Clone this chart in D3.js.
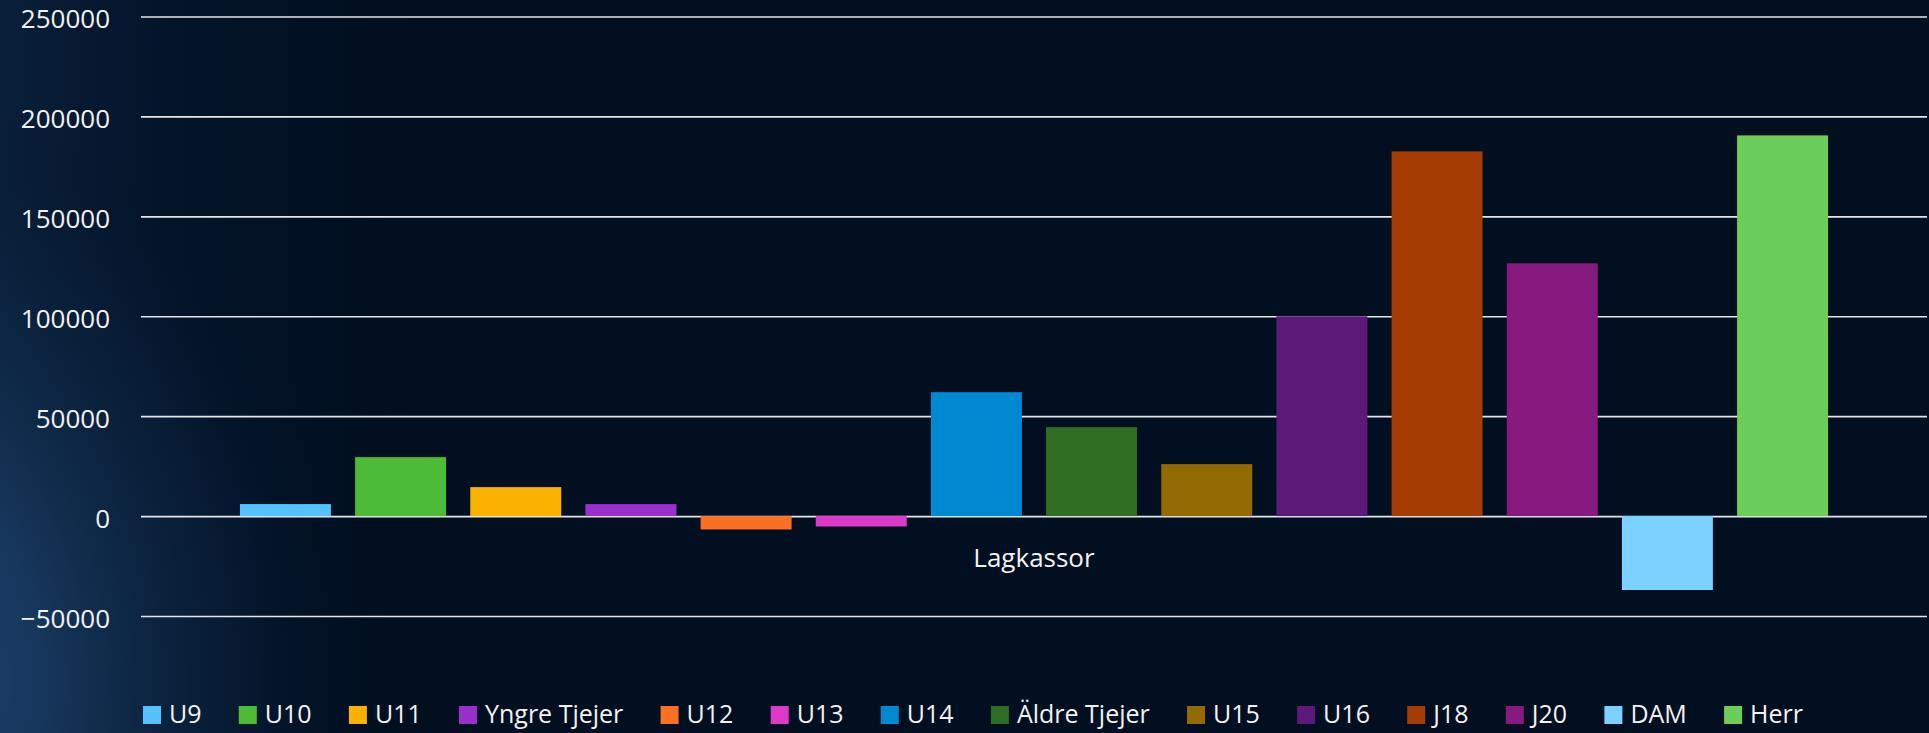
<!DOCTYPE html>
<html>
<head>
<meta charset="utf-8">
<script src="https://cdn.jsdelivr.net/npm/d3@7"></script>
<style>
    html, body { margin: 0; padding: 0; background: #010f21; overflow: hidden; }
    #chart { width: 1929px; height: 733px; }
    text { font-family: "Open Sans", "DejaVu Sans", sans-serif; fill: #f2f2f2; }
</style>
</head>
<body>
<div id="chart"></div>
<script>
// data
const category = ['Lagkassor'];
const teams = ['U9', 'U10', 'U11', 'Yngre Tjejer', 'U12', 'U13', 'U14', 'Äldre Tjejer',
    'U15', 'U16', 'J18', 'J20', 'DAM', 'Herr'];
const balance = [6000, 29500, 14500, 6000, -6700, -5200, 62000, 44500,
    26000, 100000, 182500, 126500, -37000, 190500];
const yTicks = [-50000, 0, 50000, 100000, 150000, 200000, 250000];
const colors = ['#55c2ff', '#4cbb38', '#f9b200', '#9a2fcd', '#f97025', '#de38c8', '#0088d1', '#2f6e22',
    '#946a02', '#5c1a78', '#a43c04', '#871a7e', '#7bd1ff', '#6bce5a'];

(function () {
    const width = 1929, height = 733;
    const padding = { top: 16.5, right: 2, bottom: 117, left: 141 };

    const svg = d3.select('#chart').append('svg').attr('width', width).attr('height', height);

    // background, bluish glow on the left side
    const defs = svg.append('defs');
    const glow = defs.append('radialGradient').attr('id', 'glow')
        .attr('gradientUnits', 'userSpaceOnUse')
        .attr('cx', -180).attr('cy', 680).attr('r', 560)
        .attr('gradientTransform', 'translate(-180,680) scale(1,1.1) translate(180,-680)');
    glow.append('stop').attr('offset', '0%').attr('stop-color', '#2b5688').attr('stop-opacity', 0.95);
    glow.append('stop').attr('offset', '40%').attr('stop-color', '#1d416b').attr('stop-opacity', 0.7);
    glow.append('stop').attr('offset', '75%').attr('stop-color', '#0d2746').attr('stop-opacity', 0.35);
    glow.append('stop').attr('offset', '100%').attr('stop-color', '#010f21').attr('stop-opacity', 0);
    const side = defs.append('linearGradient').attr('id', 'side')
        .attr('x1', 0).attr('x2', 1).attr('y1', 0).attr('y2', 0);
    side.append('stop').attr('offset', '0%').attr('stop-color', '#0d2644').attr('stop-opacity', 0.7);
    side.append('stop').attr('offset', '100%').attr('stop-color', '#010f21').attr('stop-opacity', 0);

    svg.append('rect').attr('width', width).attr('height', height).attr('fill', '#010f21');
    svg.append('rect').attr('width', 420).attr('height', height).attr('fill', 'url(#side)');
    svg.append('rect').attr('width', width).attr('height', height).attr('fill', 'url(#glow)');

    const yScale = d3.scaleLinear().domain([-50000, 250000]).range([616, padding.top]);
    const x0 = d3.scaleBand().domain(category).range([padding.left, width - padding.right])
        .paddingInner(0).paddingOuter(0.0623);
    const x1 = d3.scaleBand().domain(teams).range([0, x0.bandwidth()])
        .paddingInner(0.21).paddingOuter(0);

    // gridlines + y labels
    const yAxis = svg.append('g').attr('transform', `translate(${padding.left},0)`)
        .call(d3.axisLeft(yScale).tickValues(yTicks).tickFormat(d3.format('d'))
            .tickSize(-(width - padding.right - padding.left)).tickPadding(31));
    yAxis.select('.domain').remove();
    yAxis.selectAll('line').attr('stroke', '#e6e6e6').attr('stroke-width', 1.6);
    yAxis.selectAll('text').attr('font-size', 26).attr('dy', 11).style('fill', '#f2f2f2')
        .attr('font-family', '"Open Sans", sans-serif');

    // bars
    const g = svg.append('g').attr('transform', `translate(${x0('Lagkassor')},0)`);
    g.selectAll('rect').data(balance).enter().append('rect')
        .attr('x', (d, i) => x1(teams[i]))
        .attr('y', d => yScale(Math.max(0, d)))
        .attr('width', x1.bandwidth())
        .attr('height', d => Math.abs(yScale(d) - yScale(0)))
        .attr('fill', (d, i) => colors[i]);

    // category label
    svg.append('text').attr('x', x0('Lagkassor') + x0.bandwidth() / 2).attr('y', yScale(0) + 51)
        .attr('text-anchor', 'middle').attr('font-size', 26).text(category[0]);

    // legend
    const legend = svg.append('g');
    const items = legend.selectAll('g').data(teams).enter().append('g');
    items.append('rect').attr('width', 18).attr('height', 18).attr('y', 706)
        .attr('fill', (d, i) => colors[i]);
    items.append('text').attr('x', 26).attr('y', 723).attr('font-size', 25).text(d => d);

    const widths = [];
    items.each(function () {
        widths.push(26 + d3.select(this).select('text').node().getComputedTextLength());
    });
    const start = 143, end = 1803;
    const gap = (end - start - d3.sum(widths)) / (teams.length - 1);
    let pos = start;
    items.attr('transform', (d, i) => {
        const t = `translate(${pos},0)`;
        pos += widths[i] + gap;
        return t;
    });
})();
</script>
</body>
</html>
